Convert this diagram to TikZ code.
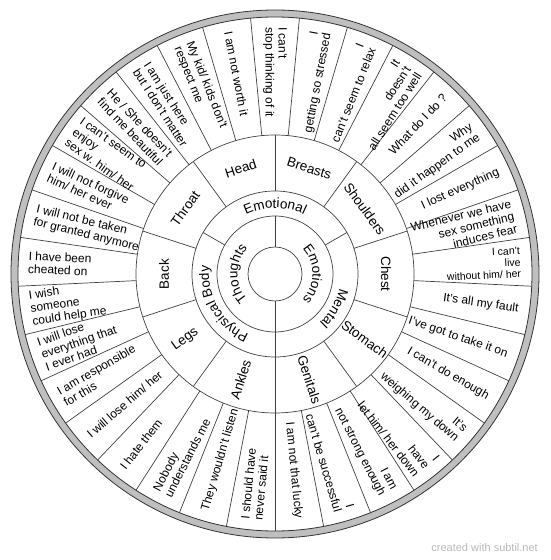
\documentclass[tikz,border=0pt]{standalone}
\usepackage{fontspec}
\setmainfont{Liberation Sans}
\usetikzlibrary{decorations.text}

\newcommand\ringfont{\fontsize{13.5}{16}\selectfont}

\begin{document}
\begin{tikzpicture}[x=1pt, y=1pt,
    rim/.style={draw=black!80, line width=0.8pt},
    spoke/.style={draw=black!75, line width=0.7pt},
    part/.style={font=\ringfont, inner sep=0pt},
    phrase/.style={font=\fontsize{12}{13}\selectfont, inner sep=0pt},
    outl/.style={phrase, anchor=west, align=left},
    outr/.style={phrase, anchor=east, align=right},
    curved/.style={decorate, decoration={text along path, text align=center, text={|\ringfont|#1}}}
]

\useasboundingbox (-275,-286) rectangle (275,274);

% rim and rings
\fill[gray!50, even odd rule] (0,0) circle[radius=264] (0,0) circle[radius=257];
\draw[rim] (0,0) circle[radius=264];
\draw[rim] (0,0) circle[radius=257];
\foreach \r in {27,58,83,139}
  \draw[spoke] (0,0) circle[radius=\r];

% spokes
\foreach \a in {90,270}
  \draw[spoke] (\a:27) -- (\a:58);
\foreach \a in {30,150,270}
  \draw[spoke] (\a:58) -- (\a:83);
\foreach \k in {0,...,9}
  \draw[spoke] (90-36*\k:83) -- (90-36*\k:139);
\foreach \k in {0,...,32}
  \draw[spoke] ({270-360/33*\k}:139) -- ({270-360/33*\k}:257);

% inner rings
\path[curved=Thoughts] (270:37.5) arc[start angle=270, end angle=90, radius=37.5];
\path[curved=Emotions] (90:37.5) arc[start angle=90, end angle=-90, radius=37.5];
\path[curved=Emotional] (150:66) arc[start angle=150, end angle=30, radius=66];
\path[curved=Mental] (30:66) arc[start angle=30, end angle=-90, radius=66];
\path[curved={Physical Body}] (270:66) arc[start angle=270, end angle=150, radius=66];

% body parts
\node[part, rotate=18] (head) at (108:111) {Head};
\node[part, rotate=-18] (breasts) at (72:111) {Breasts};
\node[part, rotate=-54] (shoulders) at (36:111) {Shoulders};
\node[part, rotate=-90] (chest) at (0:111) {Chest};
\node[part, rotate=-36] (stomach) at (-36:111) {Stomach};
\node[part, rotate=-72] (genitals) at (-72:111) {Genitals};
\node[part, rotate=72] (ankles) at (-108:111) {Ankles};
\node[part, rotate=36] (legs) at (-144:111) {Legs};
\node[part, rotate=90] (back) at (180:111) {Back};
\node[part, rotate=54] (throat) at (144:111) {Throat};

% phrases, left half
\foreach \j/\txt in {0/{I should have\\never said it}, 1/{They wouldn't listen},
    2/{Nobody\\understands me}, 3/{I hate them}, 4/{I will lose him/ her},
    5/{I am responsible\\for this}, 6/{I will lose\\everything that\\I ever had},
    7/{I wish\\someone\\could help me}, 8/{I have been\\cheated on},
    9/{I will not be taken\\for granted anymore}, 10/{I will not forgive\\him/ her ever},
    11/{I can't seem to\\enjoy\\sex w. him/ her}, 12/{He / She doesn't\\find me beautiful},
    13/{I am just here\\but I don't matter}, 14/{My kid/ kids don't\\respect me},
    15/{I am not worth it}, 16/{I can't\\stop thinking of it}}
  \node[outl, rotate=90-360/33*(\j+0.5)] (p\j) at ({270-360/33*(\j+0.5)}:247) {\txt};

% phrases, right half
\foreach \j/\txt in {17/{I\\getting so stressed}, 18/{I\\can't seem to relax},
    19/{It\\doesn't\\all seem too well}, 20/{What do I do ?},
    21/{Why\\did it happen to me}, 22/{I lost everything},
    23/{Whenever we have\\sex something\\induces fear}, 25/{It's all my fault},
    26/{I've got to take it on}, 27/{I can't do enough}, 28/{It's\\weighing my down},
    29/{I\\have\\let him/ her down}, 30/{I am\\not strong enough},
    31/{I\\can't be successful}, 32/{I am not that lucky}}
  \node[outr, rotate=270-360/33*(\j+0.5)] (p\j) at ({270-360/33*(\j+0.5)}:246) {\txt};
\node[outr, font=\fontsize{10.5}{11.5}\selectfont, rotate=270-360/33*24.5] (p24)
  at ({270-360/33*24.5}:246) {I can't\\live\\without him/ her};

\node[anchor=east, inner sep=0pt, font=\fontsize{11}{12}\selectfont, text=gray!55] (credit)
  at (263,-274) {created with subtil.net};

\end{tikzpicture}
\end{document}
